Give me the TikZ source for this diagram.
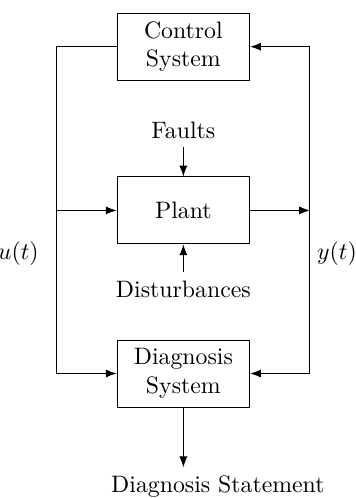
\documentclass[tikz,border=0pt]{standalone}
\usepackage{tikz}
\usetikzlibrary{positioning,arrows.meta,calc}

\begin{document}
\begin{tikzpicture}[>={Latex[length=1.6mm,width=1.2mm]},
  block/.style={rectangle,draw,minimum width=1.96cm,minimum height=0.99cm,
      align=center,inner sep=2pt}]
\useasboundingbox (0,0) rectangle (5.26,-7.36);
% blocks
\node[block] (control) at (2.71,-0.69) {Control\\System};
\node[block] (plant) at (2.71,-3.11) {Plant};
\node[block] (diag) at (2.71,-5.52) {Diagnosis\\System};
% inputs to the plant
\node (faults) at (2.71,-1.93) {Faults};
\node (dist) at (2.71,-4.27) {Disturbances};
\node (stmt) at (3.22,-7.19) {Diagnosis Statement};
% signal labels
\node (ulab) at (0.27,-3.75) {$u(t)$};
\node (ylab) at (4.98,-3.75) {$y(t)$};
% rails
\coordinate (ltop) at (0.83,-0.69);
\coordinate (rtop) at (4.58,-0.69);
\coordinate (rbot) at (4.58,-5.52);
\coordinate (ubr) at (0.83,-3.11);
\draw[->] (control.west) -- (ltop) |- (diag.west);
\draw[->] (ubr) -- (plant.west);
\draw[->] (plant.east) -- (plant.east -| rtop);
\draw[->] (rtop) -- (control.east);
\draw[->] (rbot) -- (diag.east);
\draw (rtop) -- (rbot);
\draw[->] (faults) -- (plant);
\draw[->] (dist) -- (plant);
\draw[->] (diag.south) -- (diag.south |- stmt.north);
\end{tikzpicture}
\end{document}
